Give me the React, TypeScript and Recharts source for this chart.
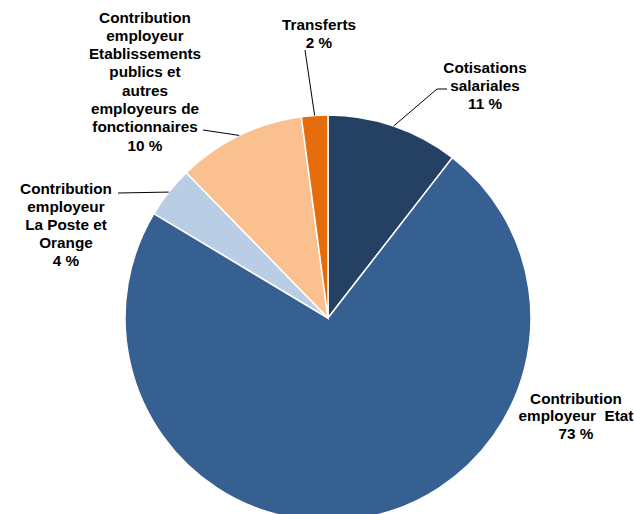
import { PieChart, Pie, Cell } from "recharts";

// Financement — parts des ressources
const names = [
  "Cotisations salariales",
  "Contribution employeur Etat",
  "Contribution employeur La Poste et Orange",
  "Contribution employeur Etablissements publics et autres employeurs de fonctionnaires",
  "Transferts",
];
const shares = [10.5, 73.1, 4.1, 10.2, 2.1];
const pctLabels = ["11 %", "73 %", "4 %", "10 %", "2 %"];
const labelLines = [
  ["Cotisations", "salariales"],
  ["Contribution", "employeur\u00a0 Etat"],
  ["Contribution", "employeur", "La Poste et", "Orange"],
  ["Contribution", "employeur", "Etablissements", "publics et", "autres", "employeurs de", "fonctionnaires"],
  ["Transferts"],
];
const COLORS = ["#244062", "#366092", "#B9CDE5", "#FAC090", "#E46C0A"];

const data = names.map((name, i) => ({ name, value: shares[i] }));

// label placement: text centre x, first baseline y, line height, leader start (+ optional elbow)
const LAYOUT = [
  { x: 485, y: 72.5, lh: 18, lead: [[447, 89], [437, 89]] },
  { x: 576, y: 403.5, lh: 17.5, lead: null },
  { x: 66, y: 193.5, lh: 18.2, lead: [[118, 193]] },
  { x: 145, y: 22.5, lh: 18.3, lead: [[203, 130]] },
  { x: 319, y: 29.5, lh: 18.5, lead: [[305, 50]] },
];

const RAD = Math.PI / 180;

function renderLabel(props: any) {
  const { cx, cy, midAngle, outerRadius, index } = props;
  const lay = LAYOUT[index];
  const lines = [...labelLines[index], pctLabels[index]];
  const ex = cx + outerRadius * Math.cos(-midAngle * RAD);
  const ey = cy + outerRadius * Math.sin(-midAngle * RAD);
  const pts = lay.lead ? [...lay.lead, [ex, ey]] : null;
  return (
    <g key={`lbl-${index}`}>
      {pts && (
        <polyline
          points={pts.map((p) => p.join(",")).join(" ")}
          fill="none"
          stroke="#000"
          strokeWidth={1}
        />
      )}
      <text
        x={lay.x}
        y={lay.y}
        textAnchor="middle"
        fontFamily="'Liberation Sans', Arial, sans-serif"
        fontWeight="bold"
        fontSize={15.3}
        fill="#000"
      >
        {lines.map((t, i) => (
          <tspan key={i} x={lay.x} y={lay.y + i * lay.lh}>
            {t}
          </tspan>
        ))}
      </text>
    </g>
  );
}

export default function App() {
  return (
    <div style={{ position: "absolute", left: 0, top: 0, width: 634, height: 514, background: "#fff" }}>
      <PieChart width={634} height={514} margin={{ top: 0, right: 0, bottom: 0, left: 0 }}>
        <Pie
          data={data}
          dataKey="value"
          nameKey="name"
          cx={328}
          cy={318}
          outerRadius={203}
          startAngle={90}
          endAngle={-270}
          stroke="#fff"
          strokeWidth={1.5}
          label={renderLabel}
          labelLine={false}
          isAnimationActive={false}
        >
          {data.map((d, i) => (
            <Cell key={d.name} fill={COLORS[i]} />
          ))}
        </Pie>
      </PieChart>
    </div>
  );
}
